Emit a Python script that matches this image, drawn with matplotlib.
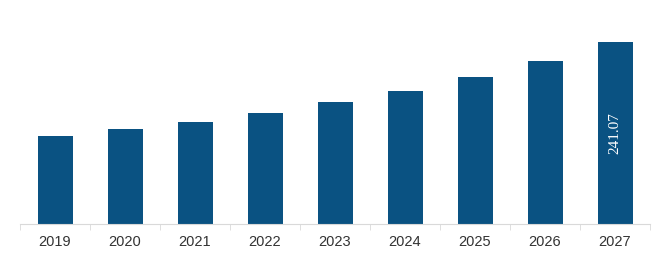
import matplotlib.pyplot as plt
import numpy as np

years = ['2019', '2020', '2021', '2022', '2023', '2024', '2025', '2026', '2027']
values = [116.6, 125.8, 135.1, 147.0, 161.6, 176.2, 194.7, 215.9, 241.07]

fig = plt.figure(figsize=(6.65, 2.76), dpi=100)
ax = fig.add_axes([20 / 665, 52 / 276, 630 / 665, 224 / 276])

x = np.arange(len(years))
ax.bar(x, values, width=0.5, color='#0a5282')

# value label only on the last bar
ax.text(x[-1], values[-1] / 2, f'{values[-1]:.2f}', rotation=90, color='white',
        ha='center', va='center', fontsize=11, family='Liberation Serif')

ax.set_xlim(-0.5, len(years) - 0.5)
ax.set_ylim(0, 297)
ax.set_xticks(x)
ax.set_xticklabels(years, fontsize=10.5, color='#333333', family='Liberation Sans')
ax.set_xticks(np.arange(-0.5, len(years), 1), minor=True)
ax.tick_params(axis='x', which='major', length=0, pad=8)
ax.tick_params(axis='x', which='minor', length=4, color='#d9d9d9', direction='out')
ax.set_yticks([])
for s in ['left', 'right', 'top']:
    ax.spines[s].set_visible(False)
ax.spines['bottom'].set_color('#d9d9d9')

fig.savefig('out.png', dpi=100)
